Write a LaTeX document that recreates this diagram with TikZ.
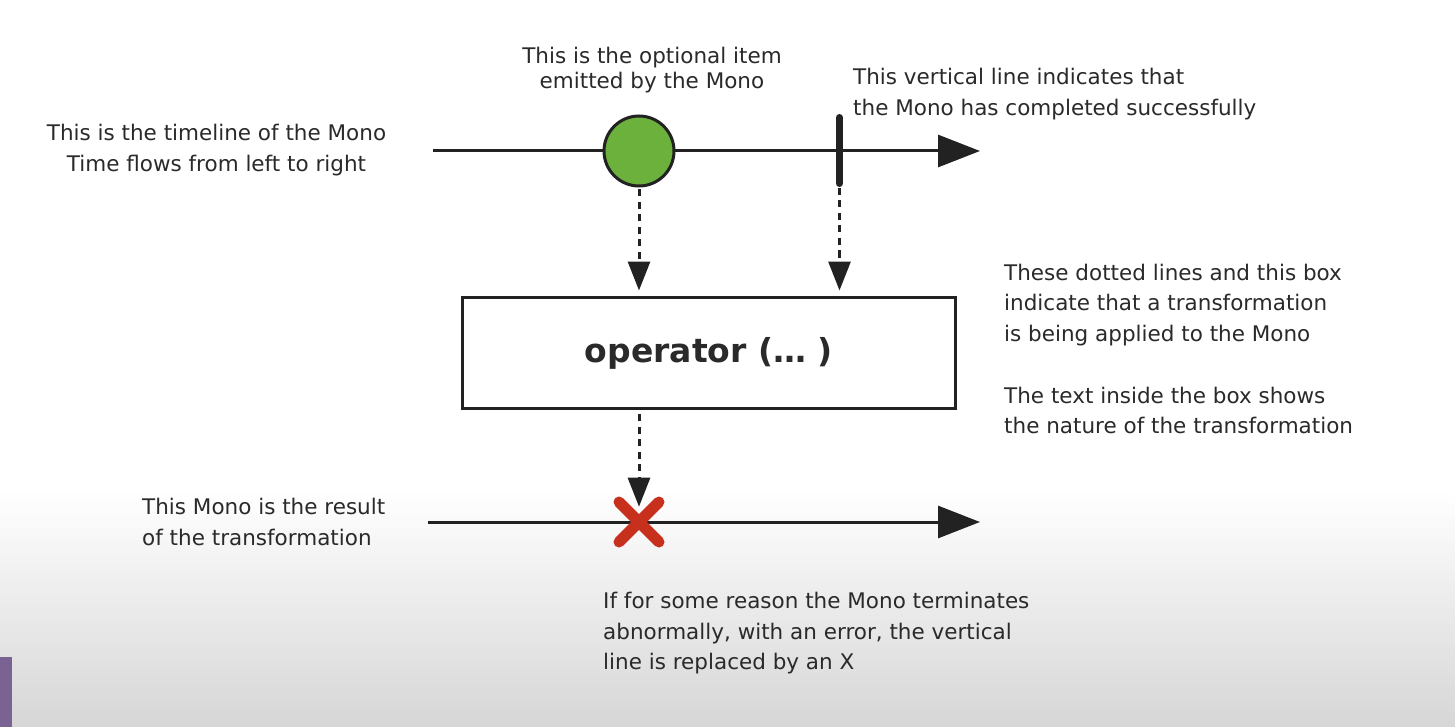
\documentclass[tikz,border=0pt]{standalone}
\usepackage{fontspec}
\setmainfont{DejaVu Sans}
\usetikzlibrary{arrows.meta}
\definecolor{ink}{HTML}{222222}
\definecolor{txtc}{HTML}{2A2A2A}
\definecolor{itemgreen}{HTML}{6BB13C}
\definecolor{errred}{HTML}{C8301E}
\definecolor{bggray}{HTML}{D6D6D6}
\definecolor{purp}{HTML}{7A6392}
\begin{document}
\begin{tikzpicture}[x=1pt,y=-1pt,
  txt/.style={font=\fontsize{21.5}{30.7}\selectfont, text=txtc, inner sep=0pt},
  txttight/.style={font=\fontsize{21.5}{25}\selectfont, text=txtc, inner sep=0pt},
  timeline/.style={draw=ink, line width=3pt, -{Triangle[length=42pt,width=32pt]}},
  flow/.style={draw=ink, line width=3pt, dash pattern=on 7pt off 5.5pt, -{Triangle[length=29pt,width=22pt]}},
  errx/.style={draw=errred, line width=11pt, line cap=round},
  donebar/.style={draw=ink, line width=7pt, line cap=round}]
\useasboundingbox (0,0) rectangle (1455,727);
\fill[white] (0,0) rectangle (1455,727);
\shade[top color=white, bottom color=bggray] (0,490) rectangle (1455,727);
\fill[purp] (0,657) rectangle (12,727);

% top timeline
\coordinate (t1s) at (433,151);
\coordinate (t1e) at (980,151);
\draw[timeline] (t1s) -- (t1e);
\node[circle, draw=ink, line width=3pt, fill=itemgreen, minimum size=70pt, inner sep=0pt] (item) at (639,151) {};
\coordinate (barT) at (839.5,117.5);
\coordinate (barB) at (839.5,183.5);
\draw[donebar] (barT) -- (barB);

% operator box
\node[draw=ink, line width=3pt, minimum width=493pt, minimum height=111pt, inner sep=0pt,
      font=\bfseries\fontsize{33}{40}\selectfont, text=txtc] (op) at (709,353) {operator (… )};

\draw[flow, shorten <=2pt, shorten >=5.5pt] (item.south) -- (item.south |- op.north);
\draw[flow, shorten <=4.5pt, shorten >=5.5pt] (barB) -- (barB |- op.north);

% bottom timeline
\coordinate (t2s) at (428,522);
\coordinate (t2e) at (980,522);
\coordinate (err) at (639,522);
\draw[timeline] (t2s) -- (t2e);
\draw[errx] (err) ++(-20,-20) -- ++(40,40);
\draw[errx] (err) ++(-20,20) -- ++(40,-40);
\draw[flow, shorten <=4pt, shorten >=15.3pt] (op.south -| err) -- (err);

% texts
\node[txt, align=center, anchor=north] (tlText) at (216.5,124.4)
  {This is the timeline of the Mono\\Time flows from left to right};
\node[txttight, align=center, anchor=north] (itemText) at (652,47)
  {This is the optional item\\emitted by the Mono};
\node[txt, align=left, anchor=north west] (barText) at (853,68)
  {This vertical line indicates that\\the Mono has completed successfully};
\node[txt, align=left, anchor=north west] (opText) at (1004,263.7)
  {These dotted lines and this box\\indicate that a transformation\\is being applied to the Mono\\[30.7pt]The text inside the box shows\\the nature of the transformation};
\node[txt, align=left, anchor=north west] (resText) at (142,498)
  {This Mono is the result\\of the transformation};
\node[txt, align=left, anchor=north west] (errText) at (603,592)
  {If for some reason the Mono terminates\\abnormally, with an error, the vertical\\line is replaced by an X};
\end{tikzpicture}
\end{document}
